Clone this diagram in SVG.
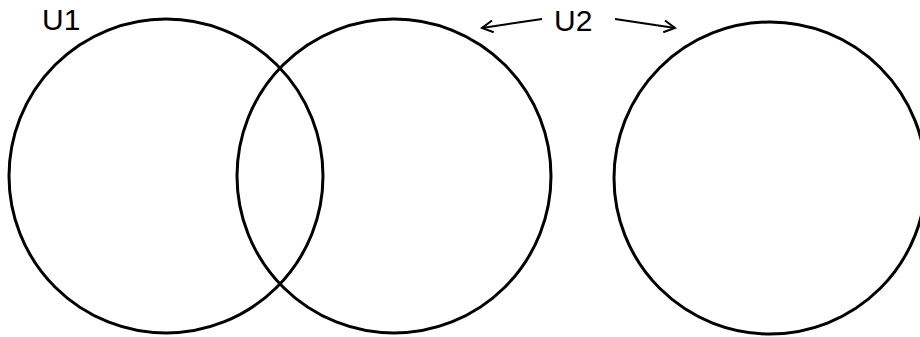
<svg xmlns="http://www.w3.org/2000/svg" width="920" height="337" viewBox="0 0 920 337">
<style>
.c{fill:none;stroke:#000;stroke-width:3}
.a{fill:none;stroke:#000;stroke-width:2}
.t{font-family:"Liberation Sans",Arial,sans-serif;font-size:30px;fill:#000}
</style>
<defs>
<marker id="ah" markerWidth="14" markerHeight="14" refX="12" refY="7" orient="auto" markerUnits="userSpaceOnUse">
<path d="M1,1 L12,7 L1,13" fill="none" stroke="#000" stroke-width="2"/>
</marker>
</defs>
<rect width="920" height="337" fill="#fff"/>
<g id="u1-circle"><circle class="c" cx="166" cy="176" r="157"/></g>
<g id="u2-circle-a"><circle class="c" cx="394" cy="176" r="157"/></g>
<g id="u2-circle-b"><circle class="c" cx="770" cy="178" r="156"/></g>
<g id="labels">
<text class="t" x="42" y="30">U1</text>
<text class="t" x="554" y="31">U2</text>
</g>
<g id="connectors">
<line class="a" x1="542" y1="19" x2="482" y2="28" marker-end="url(#ah)"/>
<line class="a" x1="615" y1="19" x2="675" y2="28" marker-end="url(#ah)"/>
</g>
</svg>
